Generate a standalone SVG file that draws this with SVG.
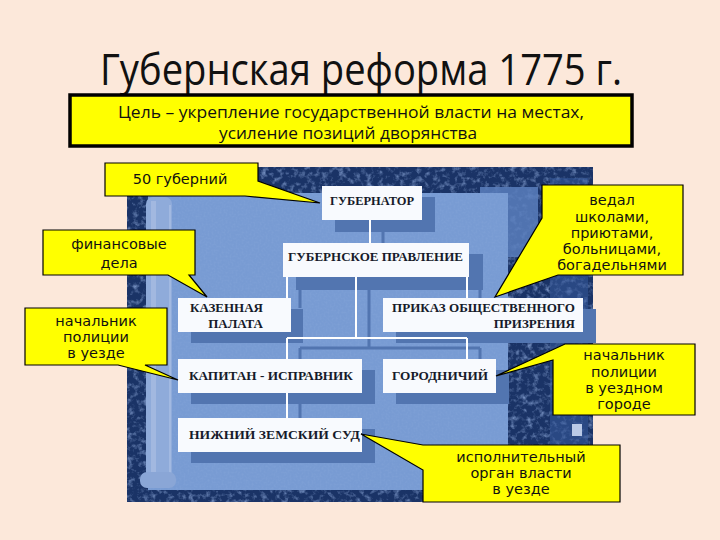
<svg xmlns="http://www.w3.org/2000/svg" width="720" height="540" viewBox="0 0 720 540">
<defs>
<filter id="marble" x="0" y="0" width="1" height="1">
<feTurbulence type="fractalNoise" baseFrequency="0.18" numOctaves="3" seed="7" result="n"/>
<feColorMatrix in="n" type="matrix" values="0 0 0 0 0.32  0 0 0 0 0.46  0 0 0 0 0.78  2.0 0 0 0 -0.95"/>
</filter>
<filter id="grain" x="0" y="0" width="1" height="1">
<feTurbulence type="fractalNoise" baseFrequency="0.5" numOctaves="2" seed="3" result="n"/>
<feColorMatrix in="n" type="matrix" values="0 0 0 0 0.75  0 0 0 0 0.85  0 0 0 0 1  1.2 0 0 0 -0.45"/>
</filter>
<style>
.title{font-family:"Open Sans","Noto Sans","DejaVu Sans",sans-serif;font-size:44px;fill:#111}
.goal{font-family:"Open Sans","Noto Sans","DejaVu Sans",sans-serif;font-size:16.5px;fill:#111}
.node rect.box{fill:#f8fafe}
.node rect.sh{fill:#5275b0}
.nt{font-family:"Liberation Serif","Times New Roman",serif;font-weight:bold;font-size:13px;fill:#161a2a}
.call path{fill:#ffff00;stroke:#000;stroke-width:1.2;stroke-linejoin:miter}
.ct{font-family:"DejaVu Sans","Verdana",sans-serif;font-size:14.5px;fill:#111;text-anchor:middle}
</style>
</defs>
<rect x="0" y="0" width="720" height="540" fill="#fce8da"/>
<text class="title" x="100" y="85" textLength="522" lengthAdjust="spacingAndGlyphs">Губернская реформа 1775 г.</text>
<g id="goal">
<rect x="70" y="95" width="562" height="51" fill="#ffff00" stroke="#000" stroke-width="3.5"/>
<text class="goal" x="118" y="118" textLength="466" lengthAdjust="spacingAndGlyphs">Цель – укрепление государственной власти на местах,</text>
<text class="goal" x="219" y="139" textLength="258" lengthAdjust="spacingAndGlyphs">усиление позиций дворянства</text>
</g>
<g id="picture">
<rect x="127" y="167" width="466" height="335" fill="#1a3366"/>
<rect x="127" y="167" width="466" height="335" filter="url(#marble)" opacity="0.85"/>
<rect x="550" y="178" width="38" height="318" fill="#36599a" opacity="0.55"/>
<rect x="480" y="187" width="58" height="70" fill="#5a7fbd" opacity="0.85"/>
<rect x="148" y="193" width="360" height="297" fill="#789bd3"/>
<rect x="148" y="193" width="360" height="297" filter="url(#grain)" opacity="0.1"/>
<rect x="146" y="197" width="26" height="290" rx="7" fill="#8fabda"/>
<rect x="151" y="201" width="5" height="280" fill="#a2b8e0"/>
<line x1="170" y1="205" x2="170" y2="480" stroke="#a9bee3" stroke-width="1.5"/>
<rect x="140" y="472" width="36" height="16" rx="7" fill="#8aa6d6"/>
<rect x="572" y="424" width="10" height="12" fill="#b9c9e6"/>
</g>
<g id="connectors-shadow" transform="translate(13,10)" stroke="#5275b0" stroke-width="3" fill="none">
<path d="M370,220 V243 M287,277 V298 M467,277 V298 M356,277 V338 M287,338 H467 M287,338 V359 M467,338 V359 M287,393 V418"/>
</g>
<g id="n1" class="node"><rect class="sh" x="335" y="197" width="100" height="35"/><rect class="box" x="322" y="186" width="100" height="34"/><text class="nt" x="330" y="205" textLength="84" lengthAdjust="spacingAndGlyphs">ГУБЕРНАТОР</text></g>
<g id="n2" class="node"><rect class="sh" x="296" y="254" width="187" height="36"/><rect class="box" x="283" y="243" width="186" height="34"/><text class="nt" x="288" y="261" textLength="175" lengthAdjust="spacingAndGlyphs">ГУБЕРНСКОЕ ПРАВЛЕНИЕ</text></g>
<g id="n3" class="node"><rect class="sh" x="191" y="309" width="112" height="34"/><rect class="box" x="178" y="298" width="113" height="34"/><text class="nt" x="263" y="312" text-anchor="end">КАЗЕННАЯ</text><text class="nt" x="263" y="328" text-anchor="end">ПАЛАТА</text></g>
<g id="n4" class="node"><rect class="sh" x="396" y="309" width="200" height="34"/><rect class="box" x="383" y="298" width="200" height="34"/><text class="nt" x="392" y="312" textLength="183" lengthAdjust="spacingAndGlyphs">ПРИКАЗ ОБЩЕСТВЕННОГО</text><text class="nt" x="575" y="328" text-anchor="end">ПРИЗРЕНИЯ</text></g>
<g id="n5" class="node"><rect class="sh" x="191" y="370" width="184" height="34"/><rect class="box" x="178" y="359" width="184" height="34"/><text class="nt" x="189" y="380" textLength="164" lengthAdjust="spacingAndGlyphs">КАПИТАН - ИСПРАВНИК</text></g>
<g id="n6" class="node"><rect class="sh" x="396" y="370" width="113" height="34"/><rect class="box" x="383" y="359" width="113" height="34"/><text class="nt" x="392" y="380" textLength="96" lengthAdjust="spacingAndGlyphs">ГОРОДНИЧИЙ</text></g>
<g id="n7" class="node"><rect class="sh" x="191" y="429" width="184" height="34"/><rect class="box" x="178" y="418" width="184" height="34"/><text class="nt" x="189" y="439" textLength="171" lengthAdjust="spacingAndGlyphs">НИЖНИЙ ЗЕМСКИЙ СУД</text></g>
<g id="connectors" stroke="#ffffff" stroke-width="2" fill="none">
<path d="M370,220 V243"/>
<path d="M287,277 V298"/>
<path d="M467,277 V298"/>
<path d="M356,277 V338 M287,338 H467"/>
<path d="M287,338 V359"/>
<path d="M467,338 V359"/>
<path d="M287,393 V418"/>
</g>
<g id="c1" class="call"><path d="M105,163 H258 V181 L320,203 L245,196 H105 Z"/><text class="ct" x="180" y="184">50 губерний</text></g>
<g id="c2" class="call"><path d="M43,230 H195 V275 H189 L207,297 L168,275 H43 Z"/><text class="ct" x="119" y="249">финансовые</text><text class="ct" x="119" y="268">дела</text></g>
<g id="c3" class="call"><path d="M25,308 H167 V365 H145 L178,380 L118,365 H25 Z"/><text class="ct" x="96" y="326">начальник</text><text class="ct" x="96" y="342">полиции</text><text class="ct" x="96" y="358">в уезде</text></g>
<g id="c4" class="call"><path d="M542,185 H683 V275 H558 L495,297 L542,218 Z"/><text class="ct" x="612" y="205">ведал</text><text class="ct" x="612" y="222">школами,</text><text class="ct" x="612" y="238">приютами,</text><text class="ct" x="612" y="254">больницами,</text><text class="ct" x="612" y="270">богадельнями</text></g>
<g id="c5" class="call"><path d="M565,344 H695 V415 H553 V360 L496,376 Z"/><text class="ct" x="624" y="360">начальник</text><text class="ct" x="624" y="377">полиции</text><text class="ct" x="624" y="393">в уездном</text><text class="ct" x="624" y="409">городе</text></g>
<g id="c6" class="call"><path d="M423,445 H620 V502 H423 V470 L361,434 Z"/><text class="ct" x="521" y="462">исполнительный</text><text class="ct" x="521" y="478">орган власти</text><text class="ct" x="521" y="494">в уезде</text></g>
</svg>
